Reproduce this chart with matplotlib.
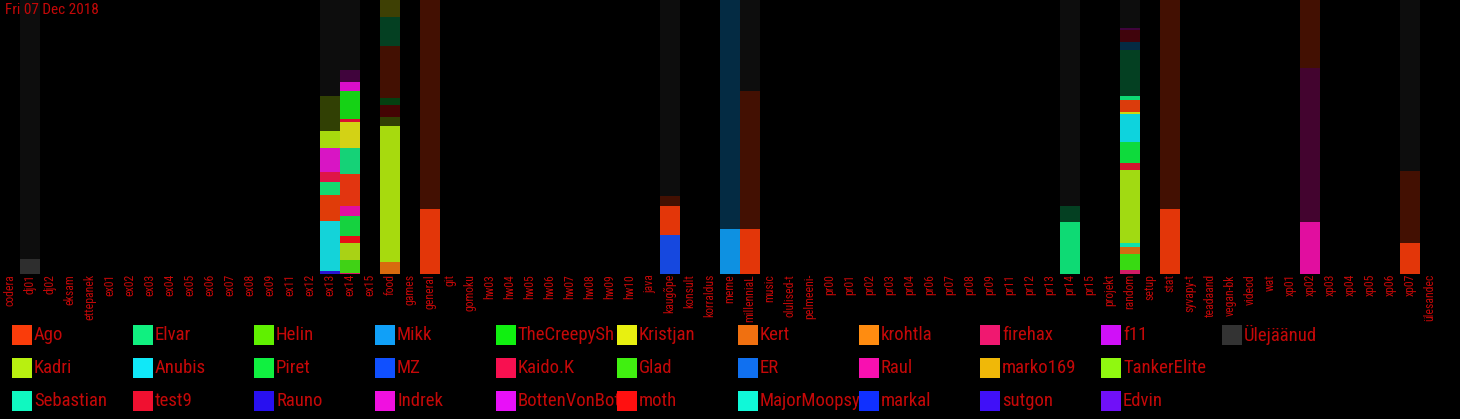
import matplotlib
matplotlib.use("Agg")
import matplotlib.pyplot as plt
from matplotlib.patches import Rectangle
from matplotlib.transforms import Bbox
import numpy as np

categories = ["codera", "dj01", "dj02", "eksam", "ettepanek", "ex01", "ex02", "ex03", "ex04",
              "ex05", "ex06", "ex07", "ex08", "ex09", "ex11", "ex12", "ex13", "ex14", "ex15",
              "food", "games", "general", "git", "gomoku", "hw03", "hw04", "hw05", "hw06",
              "hw07", "hw08", "hw09", "hw10", "java", "kaugõpe", "konsult", "korraldus",
              "meme", "millenniaL", "music", "olulised-t", "pelmeeni-", "pr00", "pr01", "pr02",
              "pr03", "pr04", "pr06", "pr07", "pr08", "pr09", "pr11", "pr12", "pr13", "pr14",
              "pr15", "projekt", "random", "setup", "stat", "syvapy-t", "teadaand", "vegan-bk",
              "videod", "wat", "xp01", "xp02", "xp03", "xp04", "xp05", "xp06", "xp07", "ülesandec"]

users = ["Ago", "Kadri", "Sebastian", "Elvar", "Anubis", "test9", "Helin", "Piret", "Rauno",
         "Mikk", "MZ", "Indrek", "TheCreepySh", "Kaido.K", "BottenVonBot", "Kristjan", "Glad",
         "moth", "Kert", "ER", "MajorMoopsy", "krohtla", "Raul", "markal", "firehax",
         "marko169", "sutgon", "f11", "TankerElite", "Edvin", "Ülejäänud"]
user_colors = ["#fa3c0a", "#b8f010", "#10f8c0", "#10f080", "#10e8f8", "#f01030", "#60f000",
               "#10f040", "#2810f0", "#10a0f8", "#1050ff", "#f010e0", "#10f010", "#f81050",
               "#e810f8", "#e8f010", "#40f010", "#ff1010", "#f07010", "#1070f0", "#10f8d8",
               "#ff8c10", "#f810b0", "#1030ff", "#f01870", "#f0b808", "#4010f8", "#d010f8",
               "#90f810", "#7010f8", "#333333"]

# today's share of messages (bright, stacked from the bottom), percent of bar height
today_channel = ["dj01",
                 "ex13", "ex13", "ex13", "ex13", "ex13", "ex13", "ex13",
                 "ex14", "ex14", "ex14", "ex14", "ex14", "ex14", "ex14", "ex14", "ex14", "ex14", "ex14", "ex14",
                 "food", "food",
                 "general",
                 "kaugõpe", "kaugõpe",
                 "meme", "millenniaL", "pr14",
                 "random", "random", "random", "random", "random", "random", "random", "random", "random", "random", "random",
                 "stat", "xp02", "xp07"]
today_user = ["Ülejäänud",
              "Rauno", "Anubis", "Ago", "Elvar", "Kaido.K", "Indrek", "Kadri",
              "firehax", "Glad", "Kadri", "moth", "Piret", "Raul", "Ago", "Elvar", "Kristjan", "test9", "TheCreepySh", "Indrek",
              "Kert", "Kadri",
              "Ago",
              "MZ", "Ago",
              "Mikk", "Ago", "Elvar",
              "firehax", "Glad", "Kert", "Sebastian", "Kadri", "test9", "Piret", "Anubis", "Kristjan", "Ago", "Elvar",
              "Ago", "Raul", "Ago"]
today_share = [5.5,
               1.1, 18.2, 9.5, 4.7, 3.6, 8.8, 6.2,
               0.5, 4.7, 6.2, 2.6, 7.3, 3.6, 11.7, 9.5, 9.5, 1.1, 10.2, 3.3,
               4.4, 49.6,
               23.7,
               14.2, 10.6,
               16.4, 16.4, 19.0,
               1.5, 5.8, 2.6, 1.5, 26.6, 2.6, 7.7, 10.2, 0.7, 4.4, 1.5,
               23.7, 19.0, 11.3]

# all-time share of messages (dim background, stacked from the bottom)
history_channel = ["dj01",
                   "ex13", "ex13",
                   "ex14", "ex14",
                   "food", "food", "food", "food", "food", "food",
                   "general",
                   "kaugõpe", "kaugõpe",
                   "meme",
                   "millenniaL", "millenniaL",
                   "pr14", "pr14",
                   "random", "random", "random", "random", "random",
                   "stat",
                   "xp02", "xp02",
                   "xp07", "xp07"]
history_user = ["Ülejäänud",
                "Kadri", "Ülejäänud",
                "Indrek", "Ülejäänud",
                "Kadri", "moth", "Piret", "Ago", "Elvar", "Kristjan",
                "Ago",
                "Ago", "Ülejäänud",
                "Mikk",
                "Ago", "Ülejäänud",
                "Elvar", "Ülejäänud",
                "Elvar", "Mikk", "test9", "Indrek", "Ülejäänud",
                "Ago",
                "Raul", "Ago",
                "Ago", "Ülejäänud"]
history_share = [100.0,
                 65.0, 35.0,
                 74.5, 25.5,
                 57.3, 4.4, 2.6, 19.0, 10.6, 6.1,
                 100.0,
                 28.5, 71.5,
                 100.0,
                 66.8, 33.2,
                 24.8, 75.2,
                 81.8, 2.9, 4.4, 0.7, 10.2,
                 100.0,
                 75.2, 24.8,
                 37.6, 62.4]

date_label = "Fri 07 Dec 2018"

FONT = ["Liberation Sans Narrow", "Roboto Condensed", "DejaVu Sans"]
TEXT_RED = "#c40808"
W, H = 1460, 419

fig = plt.figure(figsize=(W / 100, H / 100), dpi=100, facecolor="black")
ax = fig.add_axes([0, 145 / H, 1440 / W, 274 / H])
ax.set_facecolor("black")
ax.set_xlim(-0.5, len(categories) - 0.5)
ax.set_ylim(0, 100)
for s in ax.spines.values():
    s.set_visible(False)
ax.set_yticks([])

color_of = dict(zip(users, user_colors))
xpos = {c: i for i, c in enumerate(categories)}


def draw_layer(chans, usrs, vals, alpha):
    bottoms = {}
    for ch, us, v in zip(chans, usrs, vals):
        b = bottoms.get(ch, 0.0)
        ax.bar(xpos[ch], v, bottom=b, width=1.0, color=color_of[us], alpha=alpha,
               linewidth=0)
        bottoms[ch] = b + v


draw_layer(history_channel, history_user, history_share, 0.27)
draw_layer(today_channel, today_user, today_share, 0.88)

ax.set_xticks(range(len(categories)))
ax.set_xticklabels(categories, rotation=90, family=FONT, fontsize=8.5, color=TEXT_RED,
                   va="top", ha="center")
ax.tick_params(axis="x", length=0, pad=0)

ax.text(5 / 1440, 1 - 3 / 274, date_label, transform=ax.transAxes, family=FONT,
        fontsize=11, color=TEXT_RED, va="top", ha="left")

# legend: 3 rows, column-major, fixed column width
ncol_rows = 3
for k, (u, c) in enumerate(zip(users, user_colors)):
    col, row = divmod(k, ncol_rows)
    x0 = 12 + 121 * col
    ytop = 325 + 33 * row
    fig.patches.append(Rectangle((x0 / W, 1 - (ytop + 20) / H), 20 / W, 20 / H,
                                 transform=fig.transFigure, facecolor=c, edgecolor="none"))
    t = fig.text((x0 + 22) / W, 1 - (ytop + 10) / H, u, family=FONT, fontsize=13.5,
                 color=TEXT_RED, va="center", ha="left")
    t.set_clip_box(Bbox.from_extents(x0 + 22, 0, x0 + 121, H))
    t.set_clip_on(True)

fig.savefig("out.png", dpi=100, facecolor="black")
